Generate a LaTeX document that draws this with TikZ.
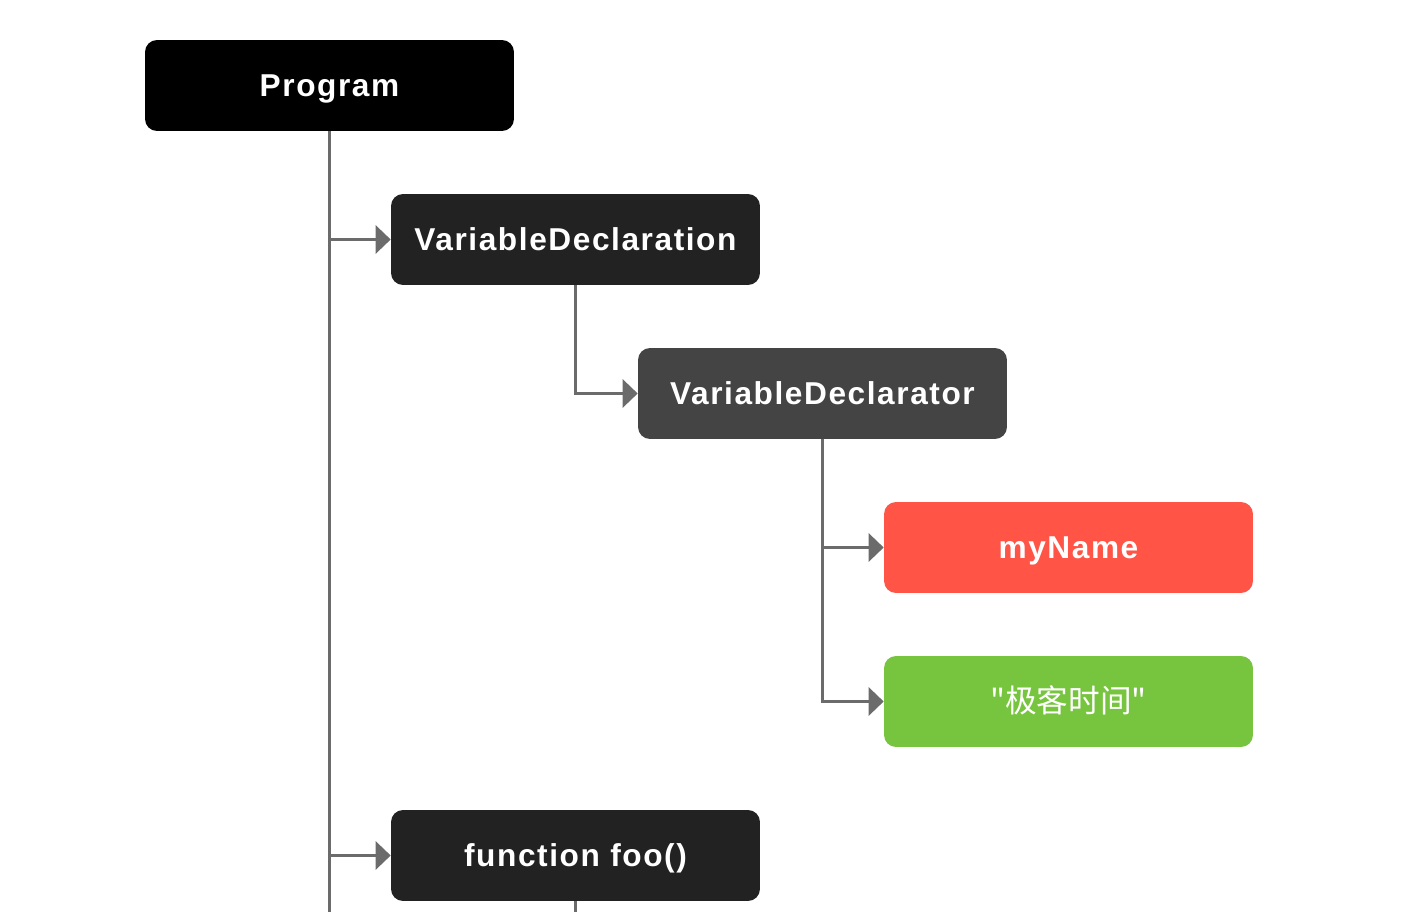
\documentclass[tikz,border=0pt]{standalone}
\usepackage{fontspec}
\setmainfont{Liberation Sans}[LetterSpace=5]
\newfontfamily\cjk[Ligatures=TeXOff]{Noto Sans CJK SC}
\usetikzlibrary{arrows.meta}
\definecolor{progblack}{HTML}{000000}
\definecolor{declgray}{HTML}{222222}
\definecolor{dtorgray}{HTML}{444444}
\definecolor{namered}{HTML}{FF5446}
\definecolor{valuegreen}{HTML}{77C43E}
\definecolor{linegray}{HTML}{6B6B6B}
\begin{document}
\begin{tikzpicture}[
  x=0.02cm, y=-0.02cm,
  treebox/.style={rounded corners=0.24cm, minimum width=7.38cm, minimum height=1.82cm,
                  inner sep=0pt, text height=12.9pt, text depth=0pt, text=white,
                  font=\fontsize{18}{21}\selectfont\bfseries},
  conn/.style={draw=linegray, line width=0.06cm},
  branch/.style={conn, -{Triangle[length=0.3cm, width=0.56cm]}},
]
\useasboundingbox (0,0) rectangle (1420,912);

% Level 0: Root
\node[treebox, fill=progblack] (prog) at (329.5,85.5) {Program};

% Level 1: Declaration
\node[treebox, fill=declgray] (vdecl) at (575.5,239.5) {VariableDeclaration};

% Level 2: Declarator
\node[treebox, fill=dtorgray] (vdtor) at (822.5,393.5) {VariableDeclarator};

% Level 3: Name and value
\node[treebox, fill=namered] (myname) at (1068.5,547.5) {myName};
\node[treebox, fill=valuegreen] (value) at (1068.5,701.5) {{\cjk\mdseries "极客时间"}};

% Level 1: Function
\node[treebox, fill=declgray] (func) at (575.5,855.5) {function foo()};

% Free ends running off the bottom
\coordinate (progEnd) at (329.5,912);
\coordinate (funcEnd) at (575.5,912);

% Trunk from Program
\draw[conn] (prog.south) -- (progEnd);
\draw[branch] (prog.south |- vdecl.west) -- (vdecl.west);
\draw[branch] (prog.south |- func.west) -- (func.west);

% Declaration to Declarator
\draw[branch] (vdecl.south) |- (vdtor.west);

% Declarator to name and value
\draw[branch] (vdtor.south) |- (value.west);
\draw[branch] (vdtor.south |- myname.west) -- (myname.west);

% Function body continues below
\draw[conn] (func.south) -- (funcEnd);

\end{tikzpicture}
\end{document}
